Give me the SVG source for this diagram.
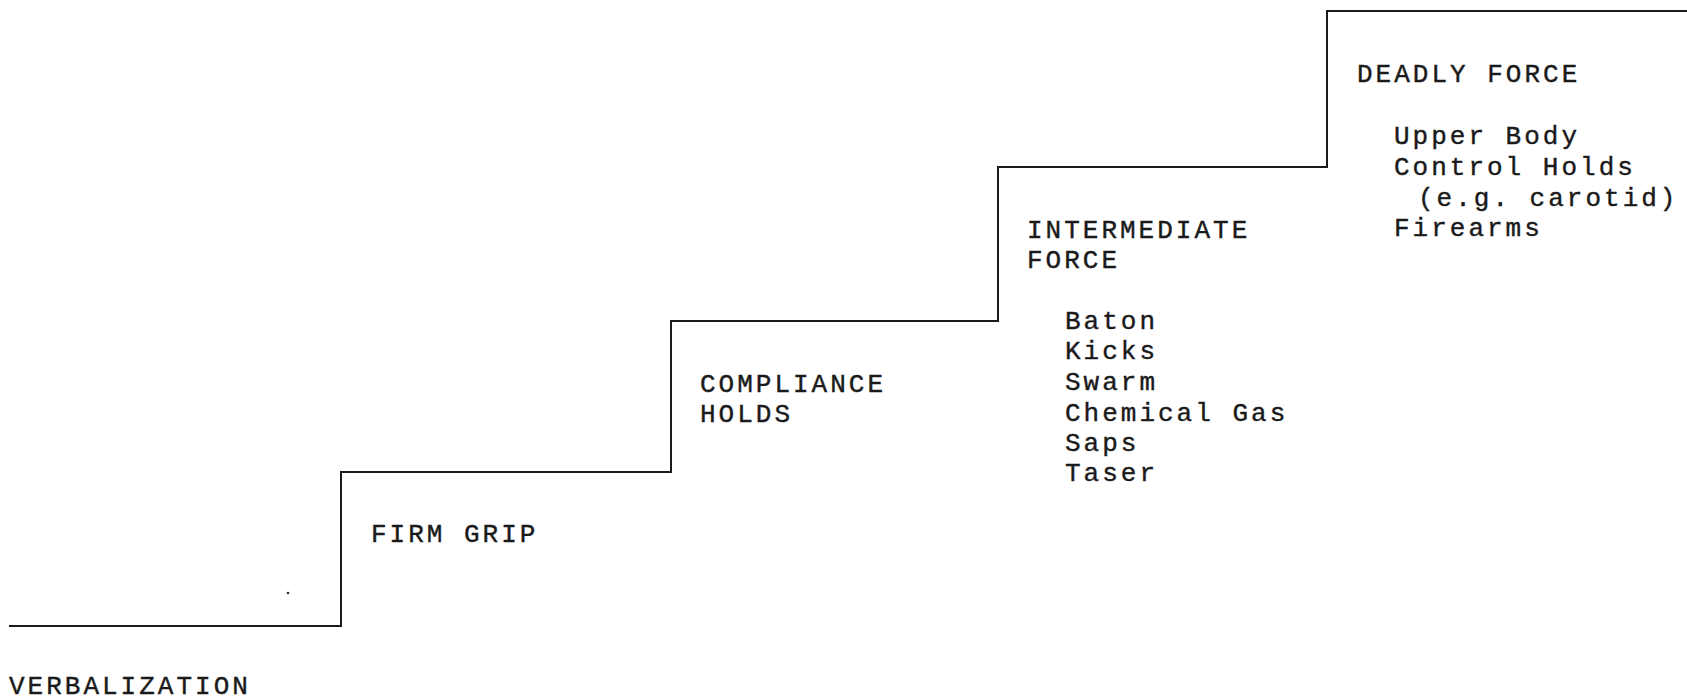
<svg xmlns="http://www.w3.org/2000/svg" width="1687" height="700" viewBox="0 0 1687 700">
<style>
.t{font-family:"Liberation Mono","Courier New",monospace;font-size:26px;letter-spacing:3px;fill:#1a1a1a;stroke:#1a1a1a;stroke-width:0.4}
.ln{fill:none;stroke:#1a1a1a;stroke-width:2}
</style>
<rect width="1687" height="700" fill="#fff"/>
<g id="connectors">
<path class="ln" d="M9,626 H341 V472 H671 V321 H998 V167 H1327 V11 H1687"/>
<circle cx="288" cy="593" r="1.3" fill="#333"/>
</g>
<g id="verbalization"><text class="t" x="9" y="694">VERBALIZATION</text></g>
<g id="firm-grip"><text class="t" x="371" y="542">FIRM GRIP</text></g>
<g id="compliance-holds">
<text class="t" x="700" y="392">COMPLIANCE</text>
<text class="t" x="700" y="422">HOLDS</text>
</g>
<g id="intermediate-force">
<text class="t" x="1027" y="238">INTERMEDIATE</text>
<text class="t" x="1027" y="268">FORCE</text>
<text class="t" x="1065" y="329">Baton</text>
<text class="t" x="1065" y="359">Kicks</text>
<text class="t" x="1065" y="390">Swarm</text>
<text class="t" x="1065" y="421">Chemical Gas</text>
<text class="t" x="1065" y="451">Saps</text>
<text class="t" x="1065" y="481">Taser</text>
</g>
<g id="deadly-force">
<text class="t" x="1357" y="82">DEADLY FORCE</text>
<text class="t" x="1394" y="144">Upper Body</text>
<text class="t" x="1394" y="175">Control Holds</text>
<text class="t" x="1418" y="206">(e.g. carotid)</text>
<text class="t" x="1394" y="236">Firearms</text>
</g>
</svg>
